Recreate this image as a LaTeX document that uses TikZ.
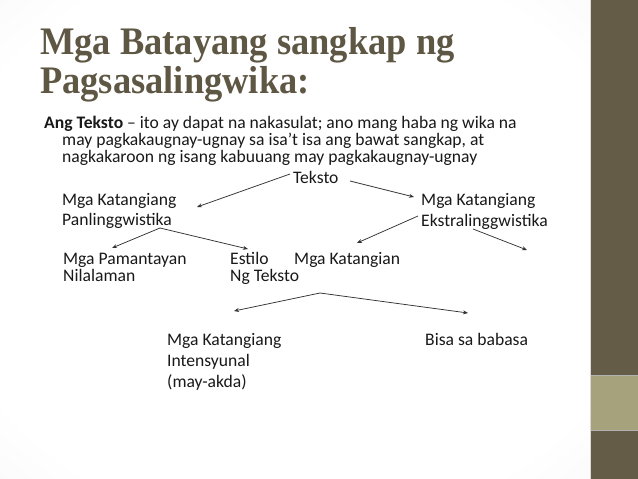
\documentclass[tikz,border=0pt]{standalone}
\usepackage{fontspec}
\setmainfont{Carlito}
\newfontfamily\titlefont[FakeStretch=0.935]{Liberation Serif}
\usetikzlibrary{arrows.meta}
\definecolor{titlecol}{RGB}{94,87,68}
\definecolor{barcol}{RGB}{101,92,72}
\definecolor{sqcol}{RGB}{166,162,124}
\pgfdeclareradialshading{bgshade}{\pgfpoint{0bp}{0bp}}{color(0bp)=(white); color(30bp)=(white); color(75bp)=(black!13)}
\begin{document}
\begin{tikzpicture}[x=1pt,y=-1pt,
  txt/.style={anchor=base west, inner sep=0pt, font=\fontsize{17.6}{14.5}\selectfont, text=black!90},
  ttl/.style={anchor=base west, inner sep=0pt, font=\titlefont\bfseries\fontsize{39}{39}\selectfont, text=titlecol},
  arr/.style={-{Stealth[length=5pt,width=4pt]}, line width=0.75pt, draw=black!80}]
\useasboundingbox (0,0) rectangle (638,479);
\shade[shading=bgshade] (0,0) rectangle (590,479);
\fill[barcol] (590,0) rectangle (638,479);
\fill[sqcol] (590,375) rectangle (638,430);
\draw[black!30, line width=0.5pt] (590,375) -- (638,375) (590,430) -- (638,430);
\draw[white!85!black, line width=0.6pt] (590.3,0) -- (590.3,479);

% title
\node[ttl] (t1) at (40,54) {Mga Batayang sangkap ng};
\node[ttl] (t2) at (40,93) {Pagsasalingwika:};

% definition
\node[txt] (d1) at (44,128) {\textbf{Ang Teksto} – ito ay dapat na nakasulat; ano mang haba ng wika na};
\node[txt] (d2) at (62,145) {may pagkakaugnay-ugnay sa isa’t isa ang bawat sangkap, at};
\node[txt] (d3) at (62,162) {nagkakaroon ng isang kabuuang may pagkakaugnay-ugnay};

% diagram
\node[txt] (teksto) at (293,183) {Teksto};
\node[txt] (mk1) at (62,205) {Mga Katangiang};
\node[txt] (pan) at (62,225) {Panlinggwistika};
\node[txt] (mk2) at (421,205) {Mga Katangiang};
\node[txt] (eks) at (421,226) {Ekstralinggwistika};
\node[txt] (pam) at (63,264) {Mga Pamantayan};
\node[txt] (nil) at (63,281) {Nilalaman};
\node[txt] (est) at (230,264) {Estilo};
\node[txt] (ngt) at (230,281) {Ng Teksto};
\node[txt] (mk3) at (294,264) {Mga Katangian};
\node[txt] (mk4) at (167,345) {Mga Katangiang};
\node[txt] (int) at (167,366) {Intensyunal};
\node[txt] (akda) at (167,387) {(may-akda)};
\node[txt] (bisa) at (425,345) {Bisa sa babasa};

% connector ends
\coordinate (tL) at (290,174);
\coordinate (tR) at (350,181);
\coordinate (mk1e) at (197,207);
\coordinate (mk2e) at (414,197);
\coordinate (panS) at (160,228);
\coordinate (pamE) at (112,248);
\coordinate (estE) at (248,249);
\coordinate (eksL) at (418,216);
\coordinate (eksR) at (473,229);
\coordinate (mk3E) at (357,243);
\coordinate (free) at (527,250);
\coordinate (ngtS) at (320,293);
\coordinate (mk4E) at (234,311);
\coordinate (bisaE) at (468,313);

\draw[arr] (tL) -- (mk1e);
\draw[arr] (tR) -- (mk2e);
\draw[arr] (panS) -- (pamE);
\draw[arr] (panS) -- (estE);
\draw[arr] (eksL) -- (mk3E);
\draw[arr] (eksR) -- (free);
\draw[arr] (ngtS) -- (mk4E);
\draw[arr] (ngtS) -- (bisaE);
\end{tikzpicture}
\end{document}
